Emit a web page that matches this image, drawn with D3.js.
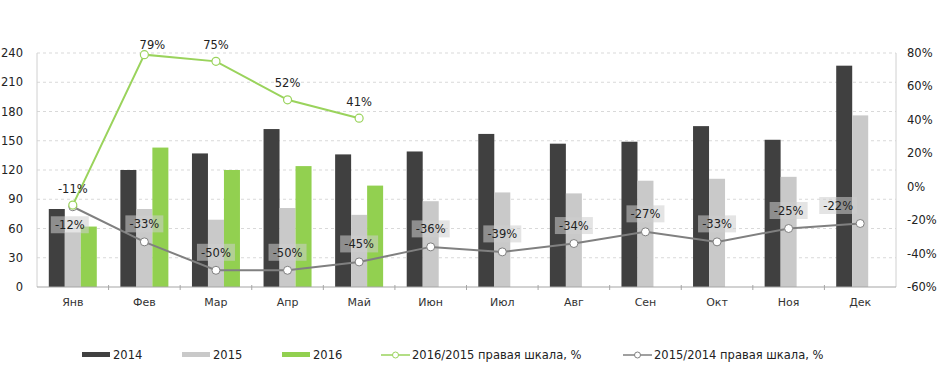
<!DOCTYPE html>
<html><head><meta charset="utf-8">
<script src="https://cdn.jsdelivr.net/npm/d3@7"></script>
<style>
body{margin:0;background:#fff;}
text{font-family:"DejaVu Sans",Verdana,sans-serif;}
</style></head>
<body><svg id="c" width="944" height="387"></svg>
<script>
const months = ["Янв","Фев","Мар","Апр","Май","Июн","Июл","Авг","Сен","Окт","Ноя","Дек"];
const v2014 = [80,120,137,162,136,139,157,147,149,165,151,227];
const v2015 = [56,80,69,81,74,88,97,96,109,111,113,176];
const v2016 = [62,143,120,124,104,null,null,null,null,null,null,null];
const r1615 = [-11,79,75,52,41,null,null,null,null,null,null,null];
const r1514 = [-12,-33,-50,-50,-45,-36,-39,-34,-27,-33,-25,-22];
const leftTicks = [0,30,60,90,120,150,180,210,240];
const rightTicks = [-60,-40,-20,0,20,40,60,80];
const seriesNames = ["2014","2015","2016"];
const colors = {"2014":"#404040","2015":"#c9c9c9","2016":"#92d050", g:"#9ad35c", k:"#808080"};

const svg = d3.select("#c");
const m = {l:37, r:896, t:53, b:287};
const x = d3.scaleBand().domain(months).range([m.l, m.r]);
const xs = d3.scaleBand().domain(seriesNames).range([0, 48]);
const yL = d3.scaleLinear().domain([0,240]).range([m.b, m.t]);
const yR = d3.scaleLinear().domain([-60,80]).range([m.b, m.t]);

// grid
svg.append("g").selectAll("line").data(leftTicks.slice(1)).join("line")
  .attr("x1", m.l).attr("x2", m.r).attr("y1", d=>yL(d)).attr("y2", d=>yL(d))
  .attr("stroke","#d9d9d9").attr("stroke-dasharray","3,3").attr("stroke-width",1);
// side axis lines
svg.append("line").attr("x1",m.l).attr("x2",m.l).attr("y1",m.t).attr("y2",m.b).attr("stroke","#d0d0d0");
svg.append("line").attr("x1",m.r).attr("x2",m.r).attr("y1",m.t).attr("y2",m.b).attr("stroke","#d0d0d0");

// bars
const sData = {"2014":v2014,"2015":v2015,"2016":v2016};
seriesNames.forEach(s=>{
  svg.append("g").selectAll("rect").data(months.map((mo,i)=>({mo,v:sData[s][i]})).filter(d=>d.v!=null)).join("rect")
    .attr("x", d=>x(d.mo)+(x.bandwidth()-48)/2+xs(s))
    .attr("width", xs.bandwidth())
    .attr("y", d=>yL(d.v)).attr("height", d=>yL(0)-yL(d.v))
    .attr("fill", colors[s]);
});

// bottom axis
svg.append("line").attr("x1",m.l).attr("x2",m.r).attr("y1",m.b).attr("y2",m.b).attr("stroke","#a6a6a6").attr("stroke-width",1.2);
svg.append("g").selectAll("line").data(months.slice(1)).join("line")
  .attr("x1",d=>x(d)).attr("x2",d=>x(d)).attr("y1",m.b-2).attr("y2",m.b+3).attr("stroke","#a6a6a6");
svg.append("g").selectAll("text").data(months).join("text")
  .attr("x",d=>x(d)+x.bandwidth()/2).attr("y",306).attr("text-anchor","middle")
  .attr("font-size",11).attr("fill","#333").text(d=>d);

// left ticks
svg.append("g").selectAll("text").data(leftTicks).join("text")
  .attr("x",23).attr("y",d=>yL(d)+4).attr("text-anchor","end")
  .attr("font-size",11.5).attr("fill","#222").text(d=>d);
svg.append("g").selectAll("text").data(rightTicks).join("text")
  .attr("x",907).attr("y",d=>yR(d)+4).attr("text-anchor","start")
  .attr("font-size",11.5).attr("fill","#222").text(d=>d+"%");

const cx = i => x(months[i]) + x.bandwidth()/2;

// gray line 2015/2014
const pts1514 = r1514.map((v,i)=>({i,v}));
svg.append("path").datum(pts1514)
  .attr("d", d3.line().x(d=>cx(d.i)).y(d=>yR(d.v)))
  .attr("fill","none").attr("stroke",colors.k).attr("stroke-width",2);
// green line
const pts1615 = r1615.map((v,i)=>({i,v})).filter(d=>d.v!=null);
svg.append("path").datum(pts1615)
  .attr("d", d3.line().x(d=>cx(d.i)).y(d=>yR(d.v)))
  .attr("fill","none").attr("stroke",colors.g).attr("stroke-width",2);

// markers
svg.append("g").selectAll("circle").data(pts1514).join("circle")
  .attr("cx",d=>cx(d.i)).attr("cy",d=>yR(d.v)).attr("r",4)
  .attr("fill","#fff").attr("stroke",colors.k).attr("stroke-width",1);
svg.append("g").selectAll("circle").data(pts1615).join("circle")
  .attr("cx",d=>cx(d.i)).attr("cy",d=>yR(d.v)).attr("r",4)
  .attr("fill","#fff").attr("stroke",colors.g).attr("stroke-width",1.2);

// gray labels with box
const gl = svg.append("g").selectAll("g").data(pts1514).join("g")
  .attr("transform", d=>{
    const dx = d.i===0 ? -3 : (d.i===11 ? -22 : 0);
    const dy = d.i===0 ? 18 : -18;
    return `translate(${cx(d.i)+dx},${yR(d.v)+dy})`;
  });
gl.append("rect").attr("x",-19).attr("y",-8.5).attr("width",38).attr("height",17)
  .attr("fill","rgba(205,205,205,0.55)");
gl.append("text").attr("text-anchor","middle").attr("y",4.5).attr("font-size",11.5)
  .attr("fill","#222").text(d=>d.v+"%");

// green labels
svg.append("g").selectAll("text").data(pts1615).join("text")
  .attr("x",d=>cx(d.i)+(d.i===1?8:0))
  .attr("y",d=>Math.max(yR(d.v)-17, 44)+4.5)
  .attr("text-anchor","middle").attr("font-size",11.5).attr("fill","#222")
  .text(d=>d.v+"%");

// legend
const ly = 355;
const leg = [
  {t:"2014", type:"bar", c:colors["2014"], x:82},
  {t:"2015", type:"bar", c:colors["2015"], x:182},
  {t:"2016", type:"bar", c:colors["2016"], x:282},
  {t:"2016/2015 правая шкала, %", type:"line", c:colors.g, x:381},
  {t:"2015/2014 правая шкала, %", type:"line", c:colors.k, x:623}
];
leg.forEach(L=>{
  if(L.type==="bar"){
    svg.append("rect").attr("x",L.x).attr("y",ly-3).attr("width",28).attr("height",5).attr("fill",L.c);
  } else {
    svg.append("line").attr("x1",L.x).attr("x2",L.x+29).attr("y1",ly).attr("y2",ly).attr("stroke",L.c).attr("stroke-width",1.5);
    svg.append("circle").attr("cx",L.x+14.5).attr("cy",ly).attr("r",3).attr("fill","#fff").attr("stroke",L.c).attr("stroke-width",1);
  }
  svg.append("text").attr("x",L.x+31).attr("y",ly+4).attr("font-size",11.5).attr("fill","#222").text(L.t);
});
</script></body></html>
